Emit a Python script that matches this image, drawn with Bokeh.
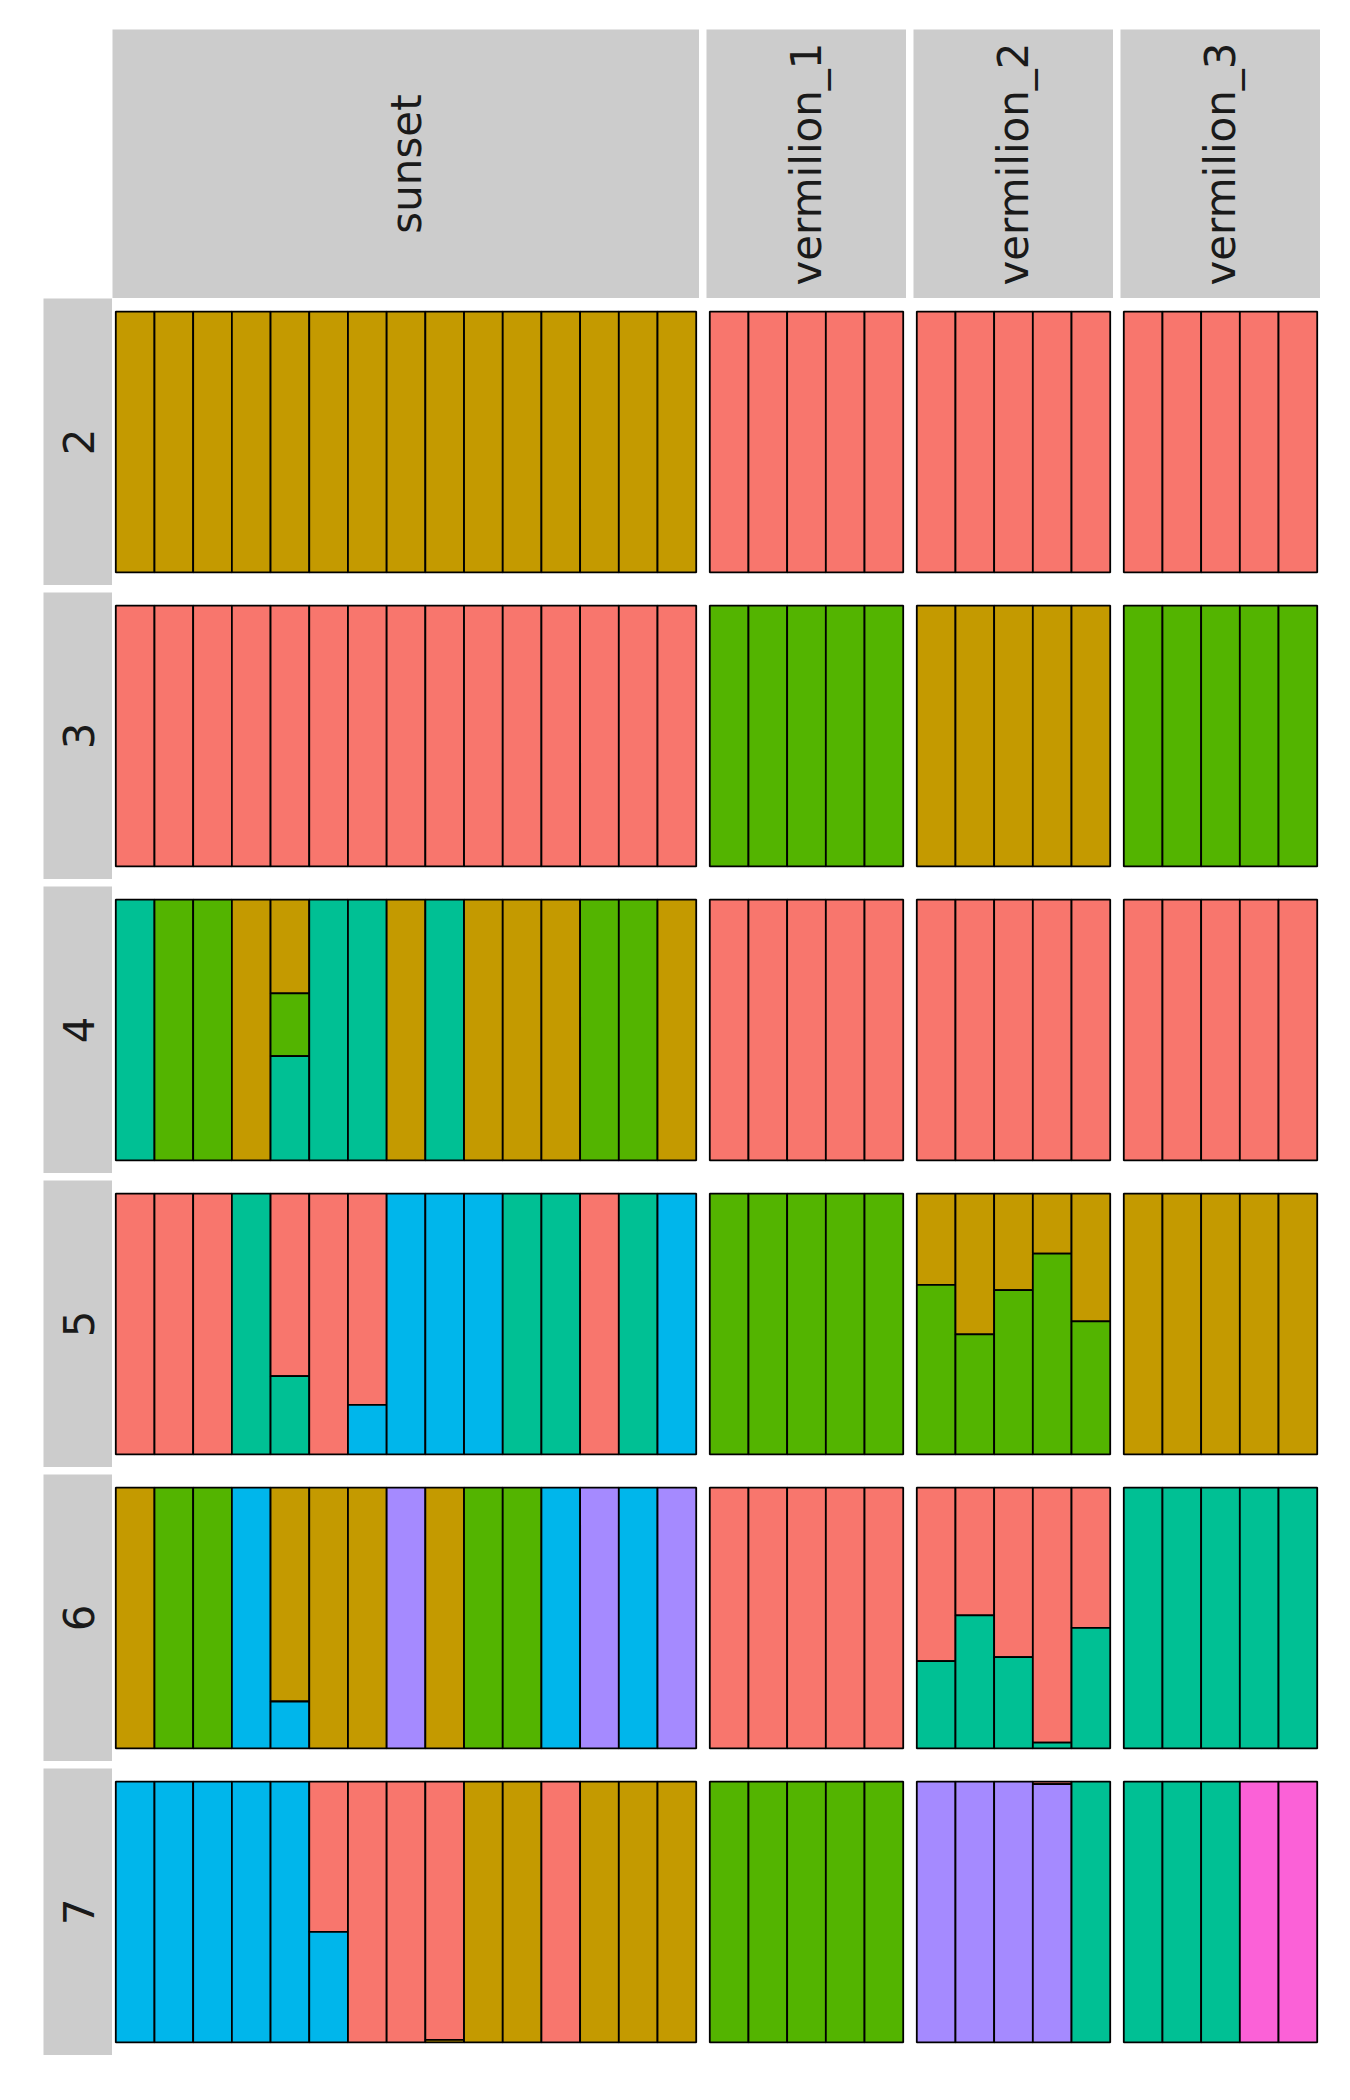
import math
from bokeh.plotting import figure
from bokeh.layouts import row, column
from bokeh.models import ColumnDataSource, Range1d, Spacer
from bokeh.core.properties import value
from bokeh.embed import file_html
from bokeh.resources import INLINE

# ---------------- data ----------------
POPULATIONS = ["sunset", "vermilion_1", "vermilion_2", "vermilion_3"]
K_VALUES = [2, 3, 4, 5, 6, 7]
CLUSTER_COLORS = ["#F8766D", "#C49A00", "#53B400", "#00C094",
                  "#00B6EB", "#A58AFF", "#FB61D7"]

# dominant cluster (1-based) of each individual, per K and population
DOMINANT_K2 = {
    "sunset":      [2, 2, 2, 2, 2, 2, 2, 2, 2, 2, 2, 2, 2, 2, 2],
    "vermilion_1": [1, 1, 1, 1, 1],
    "vermilion_2": [1, 1, 1, 1, 1],
    "vermilion_3": [1, 1, 1, 1, 1],
}
DOMINANT_K3 = {
    "sunset":      [1, 1, 1, 1, 1, 1, 1, 1, 1, 1, 1, 1, 1, 1, 1],
    "vermilion_1": [3, 3, 3, 3, 3],
    "vermilion_2": [2, 2, 2, 2, 2],
    "vermilion_3": [3, 3, 3, 3, 3],
}
DOMINANT_K4 = {
    "sunset":      [4, 3, 3, 2, 2, 4, 4, 2, 4, 2, 2, 2, 3, 3, 2],
    "vermilion_1": [1, 1, 1, 1, 1],
    "vermilion_2": [1, 1, 1, 1, 1],
    "vermilion_3": [1, 1, 1, 1, 1],
}
DOMINANT_K5 = {
    "sunset":      [1, 1, 1, 4, 1, 1, 1, 5, 5, 5, 4, 4, 1, 4, 5],
    "vermilion_1": [3, 3, 3, 3, 3],
    "vermilion_2": [3, 3, 3, 3, 3],
    "vermilion_3": [2, 2, 2, 2, 2],
}
DOMINANT_K6 = {
    "sunset":      [2, 3, 3, 5, 2, 2, 2, 6, 2, 3, 3, 5, 6, 5, 6],
    "vermilion_1": [1, 1, 1, 1, 1],
    "vermilion_2": [1, 1, 1, 1, 1],
    "vermilion_3": [4, 4, 4, 4, 4],
}
DOMINANT_K7 = {
    "sunset":      [5, 5, 5, 5, 5, 1, 1, 1, 1, 2, 2, 1, 2, 2, 2],
    "vermilion_1": [3, 3, 3, 3, 3],
    "vermilion_2": [6, 6, 6, 6, 4],
    "vermilion_3": [4, 4, 4, 7, 7],
}
DOMINANT = {2: DOMINANT_K2, 3: DOMINANT_K3, 4: DOMINANT_K4,
            5: DOMINANT_K5, 6: DOMINANT_K6, 7: DOMINANT_K7}

# admixed individuals: (K, population, individual index, {cluster: proportion})
ADMIXED = [
    (4, "sunset", 4, {2: 0.36, 3: 0.24, 4: 0.40}),
    (5, "sunset", 4, {1: 0.70, 4: 0.30}),
    (5, "sunset", 6, {1: 0.81, 5: 0.19}),
    (5, "vermilion_2", 0, {2: 0.35, 3: 0.65}),
    (5, "vermilion_2", 1, {2: 0.54, 3: 0.46}),
    (5, "vermilion_2", 2, {2: 0.37, 3: 0.63}),
    (5, "vermilion_2", 3, {2: 0.23, 3: 0.77}),
    (5, "vermilion_2", 4, {2: 0.49, 3: 0.51}),
    (6, "sunset", 4, {2: 0.82, 5: 0.18}),
    (6, "vermilion_2", 0, {1: 0.665, 4: 0.335}),
    (6, "vermilion_2", 1, {1: 0.49, 4: 0.51}),
    (6, "vermilion_2", 2, {1: 0.65, 4: 0.35}),
    (6, "vermilion_2", 3, {1: 0.978, 4: 0.022}),
    (6, "vermilion_2", 4, {1: 0.538, 4: 0.462}),
    (7, "sunset", 5, {1: 0.576, 5: 0.424}),
    (7, "sunset", 8, {1: 0.99, 2: 0.01}),
    (7, "vermilion_2", 3, {1: 0.01, 6: 0.99}),
]

# ---------------- layout / style ----------------
LEFT_MARGIN = 43
TOP_MARGIN = 29
STRIP_W = 69
STRIP_H = 269
ROW_H = 287
GAP = 7
PAD = 0.085
SMALL_W = 200
FONT = "DejaVu Sans"
FONT_SIZE = "42px"
STRIP_FILL = "#CCCCCC"
TEXT_COLOR = "#1A1A1A"
LINE_W = 1.8


def membership(K, pop):
    q = [{d: 1.0} for d in DOMINANT[K][pop]]
    for (k, p, i, comp) in ADMIXED:
        if k == K and p == pop:
            q[i] = comp
    return q


def base_fig(width, height, xr, yr, bl, bt, bg):
    p = figure(width=width, height=height, x_range=xr, y_range=yr,
               toolbar_location=None, output_backend="svg", title=None,
               x_axis_type=None, y_axis_type=None, min_border=0,
               min_border_left=bl, min_border_top=bt,
               outline_line_color=None, background_fill_color=bg,
               border_fill_color="white")
    return p


def panel(K, pop, width, height, bl, bt):
    q = membership(K, pop)
    n = len(q)
    data = dict(left=[], right=[], bottom=[], top=[], color=[])
    for i, comp in enumerate(q):
        total = sum(comp.values())
        cum = 1.0
        for c in sorted(comp):
            frac = comp[c] / total
            data["left"].append(i + 0.5)
            data["right"].append(i + 1.5)
            data["top"].append(cum)
            data["bottom"].append(cum - frac)
            data["color"].append(CLUSTER_COLORS[c - 1])
            cum -= frac
    p = base_fig(width, height, Range1d(0.5 - PAD, n + 0.5 + PAD),
                 Range1d(-0.05, 1.05), bl, bt, "white")
    p.quad(left="left", right="right", bottom="bottom", top="top",
           fill_color="color", line_color="black", line_width=LINE_W,
           source=ColumnDataSource(data))
    return p


def strip(label, width, height, bl, bt):
    p = base_fig(width, height, Range1d(0, 1), Range1d(0, 1), bl, bt, STRIP_FILL)
    src = ColumnDataSource(dict(x=[0.5], y=[0.5], label=[label]))
    p.text(x="x", y="y", text="label", source=src, angle=math.pi / 2,
           text_align="center", text_baseline="middle",
           text_font=value(FONT), text_font_size=FONT_SIZE,
           text_color=TEXT_COLOR)
    return p


n_ind = [len(DOMINANT_K2[pop]) for pop in POPULATIONS]
unit = SMALL_W / (5 + 2 * PAD)
widths = [int(round(unit * (n + 2 * PAD))) for n in n_ind]

top_children = [Spacer(width=LEFT_MARGIN + STRIP_W, height=TOP_MARGIN + STRIP_H)]
for j, pop in enumerate(POPULATIONS):
    bl = GAP if j > 0 else 0
    top_children.append(strip(pop, widths[j] + bl, TOP_MARGIN + STRIP_H, bl, TOP_MARGIN))

rows = [row(top_children)]
for r, K in enumerate(K_VALUES):
    bt = GAP if r > 0 else 0
    children = [strip(str(K), LEFT_MARGIN + STRIP_W, ROW_H + bt, LEFT_MARGIN, bt)]
    for j, pop in enumerate(POPULATIONS):
        bl = GAP if j > 0 else 0
        children.append(panel(K, pop, widths[j] + bl, ROW_H + bt, bl, bt))
    rows.append(row(children))

p = column(rows)
open("out.html", "w").write(file_html(p, INLINE))
